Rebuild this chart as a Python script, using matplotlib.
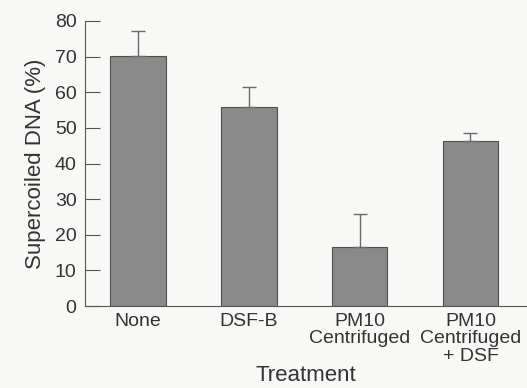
import matplotlib.pyplot as plt

# data
labels = ['None', 'DSF-B', 'PM10\nCentrifuged', 'PM10\nCentrifuged\n+ DSF']
values = [70.2, 56.0, 16.7, 46.4]
errors = [7.0, 5.4, 9.1, 2.1]

plt.rcParams['font.family'] = ['Liberation Sans', 'DejaVu Sans']

fig = plt.figure(figsize=(5.27, 3.88), dpi=100, facecolor='#f8f8f6')
ax = fig.add_axes([0.161, 0.211, 0.839, 0.735])
ax.set_facecolor('#f8f8f6')

x = range(len(values))
ax.bar(x, values, width=0.5, color='#8a8a8a', edgecolor='#505050', linewidth=0.8,
       yerr=[[0] * len(errors), errors], capsize=4.7,
       error_kw=dict(ecolor='#6a6a6a', elinewidth=1.0, capthick=1.0))

ax.set_xlim(-0.48, 3.51)
ax.set_ylim(0, 80)
ax.set_yticks(range(0, 81, 10))
ax.set_xticks(list(x))
ax.set_xticklabels(labels, fontsize=14, color='#333333', linespacing=1.02)
ax.tick_params(axis='y', direction='in', length=11, width=0.8, colors='#555555',
               labelsize=14, labelcolor='#333333', pad=6)
ax.tick_params(axis='x', length=0, pad=5)

for side in ['top', 'right']:
    ax.spines[side].set_visible(False)
for side in ['left', 'bottom']:
    ax.spines[side].set_color('#555555')
    ax.spines[side].set_linewidth(0.8)

ax.set_ylabel('Supercoiled DNA (%)', fontsize=16, color='#333333', labelpad=6)
ax.set_xlabel('Treatment', fontsize=16, color='#333333', labelpad=0)

plt.savefig('out.png', dpi=100, facecolor=fig.get_facecolor())
